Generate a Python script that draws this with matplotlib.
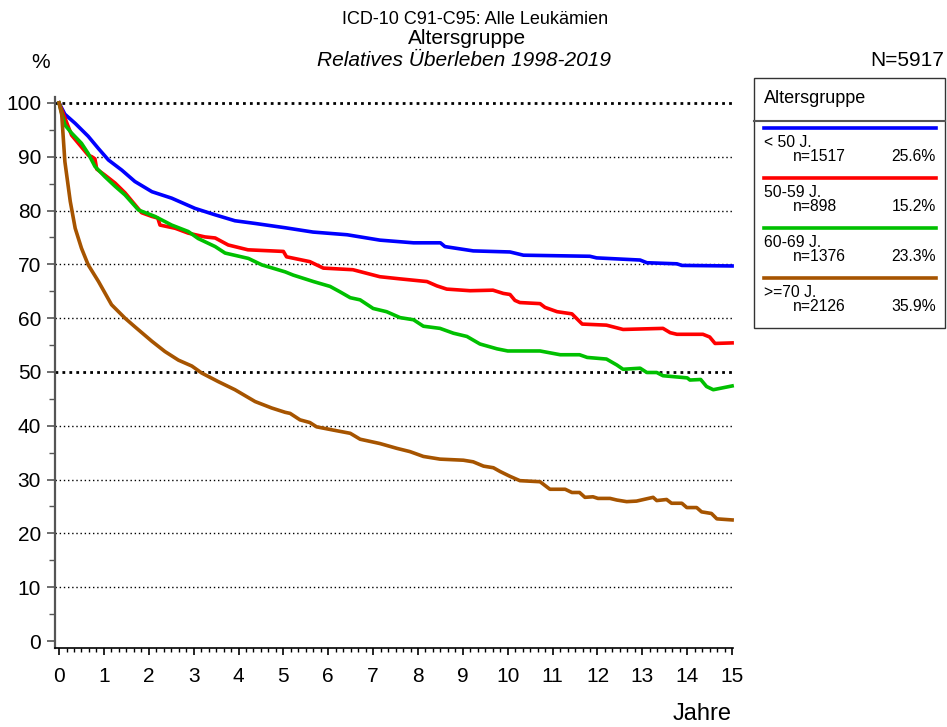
import matplotlib
matplotlib.use("Agg")
from matplotlib import pyplot as plt
from matplotlib.ticker import MultipleLocator
from matplotlib.patches import Rectangle

plt.rcParams["font.family"] = ["Liberation Sans", "DejaVu Sans"]

# relative survival by age group (years, percent)
t_lt50 = [0, 0.13, 0.36, 0.65, 0.88, 1.1, 1.4, 1.69, 2.07, 2.51, 3.03, 3.48, 3.92, 4.37, 5.04,
          5.66, 6.42, 7.15, 7.9, 8.5, 8.6, 9.23, 10.05, 10.35, 11.83, 11.98, 12.95, 13.1, 13.77,
          13.88, 15.0]
v_lt50 = [100, 97.9, 96.2, 93.8, 91.5, 89.4, 87.5, 85.4, 83.5, 82.3, 80.4, 79.2, 78.1, 77.6, 76.8,
          76.0, 75.5, 74.5, 74.0, 74.0, 73.3, 72.5, 72.3, 71.7, 71.5, 71.2, 70.8, 70.3, 70.1,
          69.8, 69.7]

t_50_59 = [0, 0.28, 0.65, 0.73, 0.8, 0.84, 1.02, 1.25, 1.47, 1.69, 1.84, 2.07, 2.2, 2.25, 2.59,
           2.88, 3.25, 3.48, 3.77, 4.21, 5.0, 5.07, 5.59, 5.89, 6.55, 6.78, 7.15, 7.6, 8.2, 8.42,
           8.64, 9.16, 9.67, 9.9, 10.05, 10.16, 10.27, 10.72, 10.83, 11.1, 11.43, 11.66, 12.2,
           12.57, 13.46, 13.62, 13.77, 14.35, 14.5, 14.62, 15.0]
v_50_59 = [100, 94.0, 90.3, 90.0, 89.6, 87.7, 86.6, 85.1, 83.3, 81.1, 79.6, 78.9, 78.6, 77.3, 76.7,
           75.8, 75.1, 74.9, 73.6, 72.7, 72.4, 71.4, 70.5, 69.3, 69.0, 68.5, 67.7, 67.3, 66.8, 66.0,
           65.4, 65.1, 65.2, 64.6, 64.4, 63.3, 62.9, 62.7, 62.0, 61.2, 60.8, 58.9, 58.7,
           57.9, 58.1, 57.3, 57.0, 57.0, 56.5, 55.3, 55.4]

t_60_69 = [0, 0.13, 0.28, 0.5, 0.65, 0.8, 1.02, 1.25, 1.47, 1.77, 2.14, 2.51, 2.88, 3.1, 3.48,
           3.7, 4.22, 4.52, 5.04, 5.22, 5.67, 6.04, 6.26, 6.49, 6.71, 7.0, 7.3, 7.6, 7.9, 8.12,
           8.49, 8.79, 9.09, 9.38, 9.76, 10.0, 10.72, 11.17, 11.6, 11.77, 12.2, 12.43, 12.57,
           12.95, 13.1, 13.32, 13.46, 14.0, 14.06, 14.3, 14.43, 14.58, 15.0]
v_60_69 = [100, 95.9, 94.4, 92.5, 90.6, 88.2, 86.3, 84.5, 82.9, 80.1, 78.9, 77.3, 76.1, 74.8, 73.3,
           72.1, 71.1, 69.9, 68.6, 68.0, 66.8, 65.9, 64.9, 63.8, 63.4, 61.8, 61.2, 60.1, 59.7, 58.5,
           58.1, 57.2, 56.6, 55.2, 54.3, 53.9, 53.9, 53.2, 53.2, 52.7, 52.4, 51.3, 50.5,
           50.7, 49.9, 49.9, 49.3, 48.9, 48.5, 48.6, 47.3, 46.7, 47.4]

t_ge70 = [0, 0.06, 0.13, 0.25, 0.36, 0.5, 0.65, 0.88, 1.17, 1.47, 1.69, 2.07, 2.36, 2.66, 2.96,
          3.18, 3.55, 3.92, 4.37, 4.74, 5.04, 5.15, 5.37, 5.59, 5.74, 6.11, 6.49, 6.71, 7.15,
          7.53, 7.82, 8.12, 8.49, 9.01, 9.23, 9.46, 9.68, 9.83, 10.05, 10.27, 10.72, 10.94,
          11.28, 11.43, 11.6, 11.72, 11.9, 12.01, 12.28, 12.43, 12.65, 12.87, 13.24, 13.32,
          13.54, 13.65, 13.88, 13.99, 14.21, 14.32, 14.54, 14.66, 15.0]
v_ge70 = [100, 97.8, 89.1, 81.7, 76.7, 73.0, 69.9, 66.8, 62.5, 60.0, 58.4, 55.7, 53.8, 52.2, 51.1,
          49.8, 48.2, 46.7, 44.5, 43.3, 42.5, 42.3, 41.1, 40.6, 39.8, 39.2, 38.6, 37.5, 36.7,
          35.8, 35.2, 34.3, 33.8, 33.6, 33.3, 32.5, 32.2, 31.5, 30.6, 29.8, 29.6, 28.2,
          28.2, 27.6, 27.6, 26.7, 26.8, 26.5, 26.5, 26.2, 25.9, 26.0, 26.7, 26.1,
          26.3, 25.6, 25.6, 24.8, 24.8, 24.0, 23.7, 22.7, 22.5]

groups = ["< 50 J.", "50-59 J.", "60-69 J.", ">=70 J."]
counts = [1517, 898, 1376, 2126]
shares = ["25.6%", "15.2%", "23.3%", "35.9%"]
colors = ["#0000ff", "#ff0000", "#00c000", "#a65400"]
series = [(t_lt50, v_lt50), (t_50_59, v_50_59), (t_60_69, v_60_69), (t_ge70, v_ge70)]


def main():
    W, H = 947, 727
    fig = plt.figure(figsize=(W / 100, H / 100), dpi=100)

    x0, x1 = 55, 733
    y0, y1 = 648, 97
    ax = fig.add_axes([x0 / W, 1 - y0 / H, (x1 - x0) / W, (y0 - y1) / H])
    ax.set_xlim(-0.09, 15.02)
    ax.set_ylim(-1.3, 101.1)

    # dotted reference lines, heavier at 50 and 100
    for y in range(10, 101, 10):
        heavy = y in (50, 100)
        ax.axhline(y, color="black", lw=2.0 if heavy else 1.0,
                   linestyle=(0, (1, 1.5)) if heavy else (0, (1, 2)), zorder=1)

    for (t, v), c in zip(series, colors):
        ax.plot(t, v, color=c, lw=2.6, solid_joinstyle="round", clip_on=False, zorder=3)

    ax.spines[["top", "right"]].set_visible(False)
    ax.spines["left"].set_color("#555555")
    ax.spines["left"].set_linewidth(1.6)
    ax.spines["bottom"].set_linewidth(1.2)

    ax.set_xticks(range(0, 16))
    ax.xaxis.set_minor_locator(MultipleLocator(1 / 6))
    ax.set_yticks(range(0, 101, 10))
    ax.yaxis.set_minor_locator(MultipleLocator(5))
    ax.tick_params(axis="x", which="major", length=5, width=1.2, labelsize=15, pad=9)
    ax.tick_params(axis="x", which="minor", length=3, width=1.0)
    ax.tick_params(axis="y", which="major", length=6, width=1.2, labelsize=15, pad=4,
                   color="#555555")
    ax.tick_params(axis="y", which="minor", length=4, width=1.0, color="#555555")

    fig.text(475 / W, 1 - 19 / H, "ICD-10 C91-C95: Alle Leukämien", ha="center", va="center",
             fontsize=13)
    fig.text(467 / W, 1 - 38 / H, "Altersgruppe", ha="center", va="center", fontsize=15)
    fig.text(464 / W, 1 - 61 / H, "Relatives Überleben 1998-2019", ha="center", va="center",
             fontsize=15, style="italic")
    fig.text(41 / W, 1 - 63 / H, "%", ha="center", va="center", fontsize=15)
    fig.text(944 / W, 1 - 61 / H, "N=5917", ha="right", va="center", fontsize=15)
    fig.text(732 / W, 1 - 714 / H, "Jahre", ha="right", va="center", fontsize=17)

    # legend box drawn in pixel coordinates
    lax = fig.add_axes([0, 0, 1, 1], zorder=5)
    lax.set_xlim(0, W)
    lax.set_ylim(H, 0)
    lax.axis("off")
    lax.add_patch(Rectangle((754, 78), 191, 250, fill=False, edgecolor="#333333", lw=1.0))
    lax.plot([754, 945], [120.5, 120.5], color="#555555", lw=1.5)
    lax.text(764, 98.5, "Altersgruppe", ha="left", va="center", fontsize=13)
    for i, (g, n, s, c) in enumerate(zip(groups, counts, shares, colors)):
        yl = 128.3 + 50 * i
        lax.plot([764, 936], [yl, yl], color=c, lw=2.6)
        lax.text(764, yl + 14.5, g, ha="left", va="center", fontsize=11.3)
        lax.text(793, yl + 28.5, f"n={n}", ha="left", va="center", fontsize=11.3)
        lax.text(936, yl + 28.5, s, ha="right", va="center", fontsize=11.3)

    fig.savefig("out.png", dpi=100)


if __name__ == '__main__':
    main()
